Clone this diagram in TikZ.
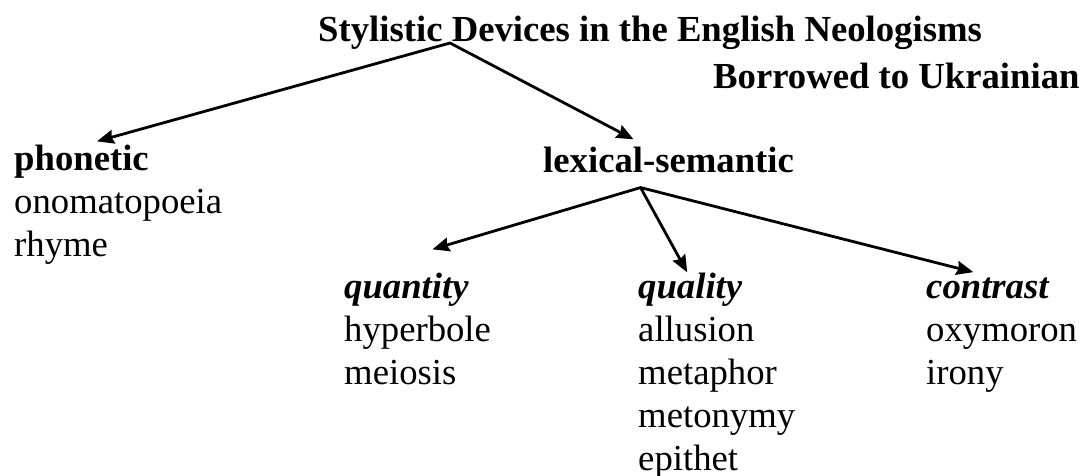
\documentclass[tikz,border=0pt]{standalone}
\usepackage{fontspec}
\setmainfont{Liberation Serif}
\usetikzlibrary{arrows.meta}

\begin{document}
\fontsize{36.7}{43}\selectfont%
\begin{tikzpicture}[
    x=1pt, y=1pt,
    every node/.style={inner sep=0pt, anchor=base west},
    head/.style={font=\bfseries},
    kind/.style={font=\bfseries\itshape},
    branch/.style={line width=2.8pt, -{Stealth[length=17pt, width=14pt, inset=2pt]}},
    branch2/.style={line width=2.8pt,
      {Stealth[length=17pt, width=14pt, inset=2pt]}-{Stealth[length=17pt, width=14pt, inset=2pt]}}
  ]
  \useasboundingbox (0,0) rectangle (1084,-475);

  % title
  \node[head] (title) at (318,-41) {Stylistic Devices in the English Neologisms};
  \node[head] (title2) at (713,-88) {Borrowed to Ukrainian};

  % first level
  \begin{scope}[shift={(14,-170)}]
    \node[head] (phon) at (0,0) {phonetic};
    \foreach \w [count=\i] in {onomatopoeia, rhyme}
      \node (phon\i) at (0,-43*\i) {\w};
  \end{scope}

  \node[head] (lex) at (543,-172) {lexical-semantic};

  % second level
  \begin{scope}[shift={(344,-298)}]
    \node[kind] (quant) at (0,0) {quantity};
    \foreach \w [count=\i] in {hyperbole, meiosis}
      \node (quant\i) at (0,-43*\i) {\w};
  \end{scope}

  \begin{scope}[shift={(638,-298)}]
    \node[kind] (qual) at (0,0) {quality};
    \foreach \w [count=\i] in {allusion, metaphor, metonymy, epithet}
      \node (qual\i) at (0,-43*\i) {\w};
  \end{scope}

  \begin{scope}[shift={(926,-298)}]
    \node[kind] (contr) at (0,0) {contrast};
    \foreach \w [count=\i] in {oxymoron, irony}
      \node (contr\i) at (0,-43*\i) {\w};
  \end{scope}

  % arrows
  \coordinate (root) at ([xshift=132pt, yshift=-2pt]title.base west);
  \coordinate (lexroot) at ([xshift=-28pt, yshift=-15pt]lex.south);

  \draw[branch2] ([xshift=15.5pt, yshift=3pt]phon.north) -- (root)
    -- ([xshift=-35pt, yshift=7pt]lex.north);
  \draw[branch2] ([xshift=26pt, yshift=23pt]quant.north) -- (lexroot)
    -- ([xshift=-14pt, yshift=5pt]contr.north);
  \draw[branch] (lexroot) -- ([xshift=-3pt]qual.north);
\end{tikzpicture}
\end{document}
